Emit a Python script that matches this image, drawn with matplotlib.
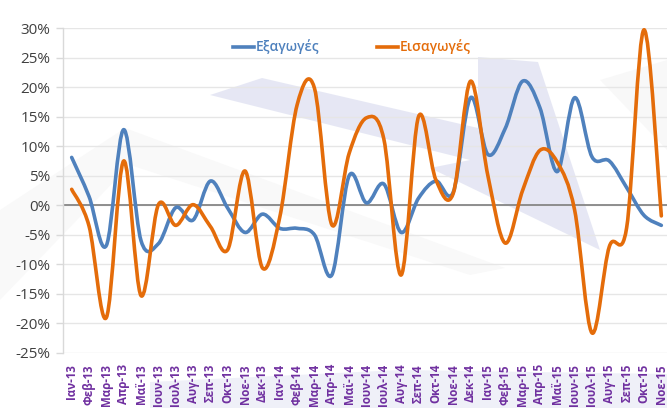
import numpy as np
import matplotlib
matplotlib.use('Agg')
import matplotlib.pyplot as plt
from matplotlib.path import Path
from matplotlib.patches import PathPatch, Polygon
from matplotlib.ticker import MultipleLocator, FuncFormatter

plt.rcParams['font.family'] = ['Open Sans', 'DejaVu Sans']

# Μήνες (κατηγορίες άξονα x)
months = ['Ιαν-13', 'Φεβ-13', 'Μαρ-13', 'Απρ-13', 'Μαϊ-13', 'Ιουν-13', 'Ιουλ-13',
          'Αυγ-13', 'Σεπ-13', 'Οκτ-13', 'Νοε-13', 'Δεκ-13',
          'Ιαν-14', 'Φεβ-14', 'Μαρ-14', 'Απρ-14', 'Μαϊ-14', 'Ιουν-14', 'Ιουλ-14',
          'Αυγ-14', 'Σεπ-14', 'Οκτ-14', 'Νοε-14', 'Δεκ-14',
          'Ιαν-15', 'Φεβ-15', 'Μαρ-15', 'Απρ-15', 'Μαϊ-15', 'Ιουν-15', 'Ιουλ-15',
          'Αυγ-15', 'Σεπ-15', 'Οκτ-15', 'Νοε-15']

# Ετήσια μεταβολή (%)
exports = [8.1, 1.5, -6.8, 12.8, -6.0, -6.5, -0.4, -2.5, 4.1, -0.5, -4.6, -1.5,
           -3.9, -3.9, -5.0, -11.8, 5.0, 0.4, 3.6, -4.6, 1.2, 4.1, 2.2, 18.2,
           8.6, 13.0, 21.0, 16.5, 5.7, 18.2, 8.2, 7.5, 3.0, -1.7, -3.4]

imports = [2.7, -3.5, -19.0, 7.5, -15.3, 0.1, -3.4, 0.1, -3.6, -7.5, 5.8, -10.6,
           -2.0, 17.0, 19.8, -3.3, 8.8, 14.8, 11.2, -11.8, 15.0, 4.3, 2.0, 21.0,
           5.0, -6.4, 2.5, 9.3, 7.3, -0.8, -21.6, -7.0, -3.8, 29.7, -1.8]

series_names = ['Εξαγωγές', 'Εισαγωγές']
colors = ['#4F81BD', '#E46C0A']


def smooth_path(vals):
    # καμπύλη Bezier όπως η "ομαλή γραμμή" του Excel
    p = np.column_stack([np.arange(len(vals)), vals]).astype(float)
    n = len(p)
    verts = [p[0]]
    codes = [Path.MOVETO]
    for i in range(n - 1):
        prev = p[max(i - 1, 0)]
        nxt = p[min(i + 2, n - 1)]
        c1 = p[i] + (p[i + 1] - prev) / 6.0
        c2 = p[i + 1] - (nxt - p[i]) / 6.0
        verts += [c1, c2, p[i + 1]]
        codes += [Path.CURVE4] * 3
    return Path(verts, codes)


fig = plt.figure(figsize=(6.67, 4.08), dpi=100)
W, H = 667.0, 408.0

# διακοσμητικά βέλη στο φόντο
def fpoly(pts, color, alpha):
    xy = [(x / W, 1 - y / H) for x, y in pts]
    fig.patches.append(Polygon(xy, closed=True, transform=fig.transFigure,
                               facecolor=color, edgecolor='none', alpha=alpha, zorder=-5))

fpoly([(0, 300), (0, 210), (125, 128), (505, 268), (470, 275), (130, 165)], '#e8e8e8', 0.25)
fpoly([(210, 95), (262, 78), (478, 128), (478, 57), (538, 62), (600, 250),
       (430, 168), (470, 160)], '#d2d5ec', 0.55)
fpoly([(600, 80), (667, 60), (667, 150)], '#ececec', 0.35)
fpoly([(150, 382), (400, 370), (667, 374), (667, 408), (150, 408)], '#dcdff1', 0.45)

ax = fig.add_axes([63 / W, 1 - 353 / H, (670 - 63) / W, (353 - 28) / H])
ax.set_facecolor('none')
ax.set_zorder(2)

lines = []
for vals, name, col in zip([exports, imports], series_names, colors):
    patch = PathPatch(smooth_path(vals), facecolor='none', edgecolor=col,
                      lw=2.6, capstyle='round', joinstyle='round', zorder=3)
    ax.add_patch(patch)
    # γραμμή μόνο για το υπόμνημα
    ln, = ax.plot([], [], color=col, lw=2.6, label=name)
    lines.append(ln)

ax.set_xlim(-0.5, len(months) - 0.5)
ax.set_ylim(-25, 30)
ax.yaxis.set_major_locator(MultipleLocator(5))
ax.yaxis.set_major_formatter(FuncFormatter(lambda v, pos: '{:.0f}%'.format(v)))
ax.grid(axis='y', color='#e6e6e6', lw=1.0, zorder=1)
ax.axhline(0, color='#868686', lw=1.3, zorder=2)

ax.set_xticks(range(len(months)))
ax.set_xticklabels(months, rotation=90, color='#7030A0', fontweight='bold', fontsize=8.3)
ax.tick_params(axis='x', length=0, pad=8)
ax.tick_params(axis='y', labelsize=11, labelcolor='#404040', color='#d9d9d9',
               length=5, width=1, pad=4)

for s in ['top', 'right', 'bottom']:
    ax.spines[s].set_visible(False)
ax.spines['left'].set_color('#d9d9d9')
ax.spines['left'].set_linewidth(1.0)

leg = fig.legend(handles=lines, loc='center', bbox_to_anchor=(352 / W, 1 - 47 / H),
                 ncol=2, frameon=False, fontsize=10, handlelength=1.5,
                 handletextpad=0.1, columnspacing=4.2, labelcolor='linecolor')
for t in leg.get_texts():
    t.set_fontweight('semibold')

fig.savefig('out.png', dpi=100)
